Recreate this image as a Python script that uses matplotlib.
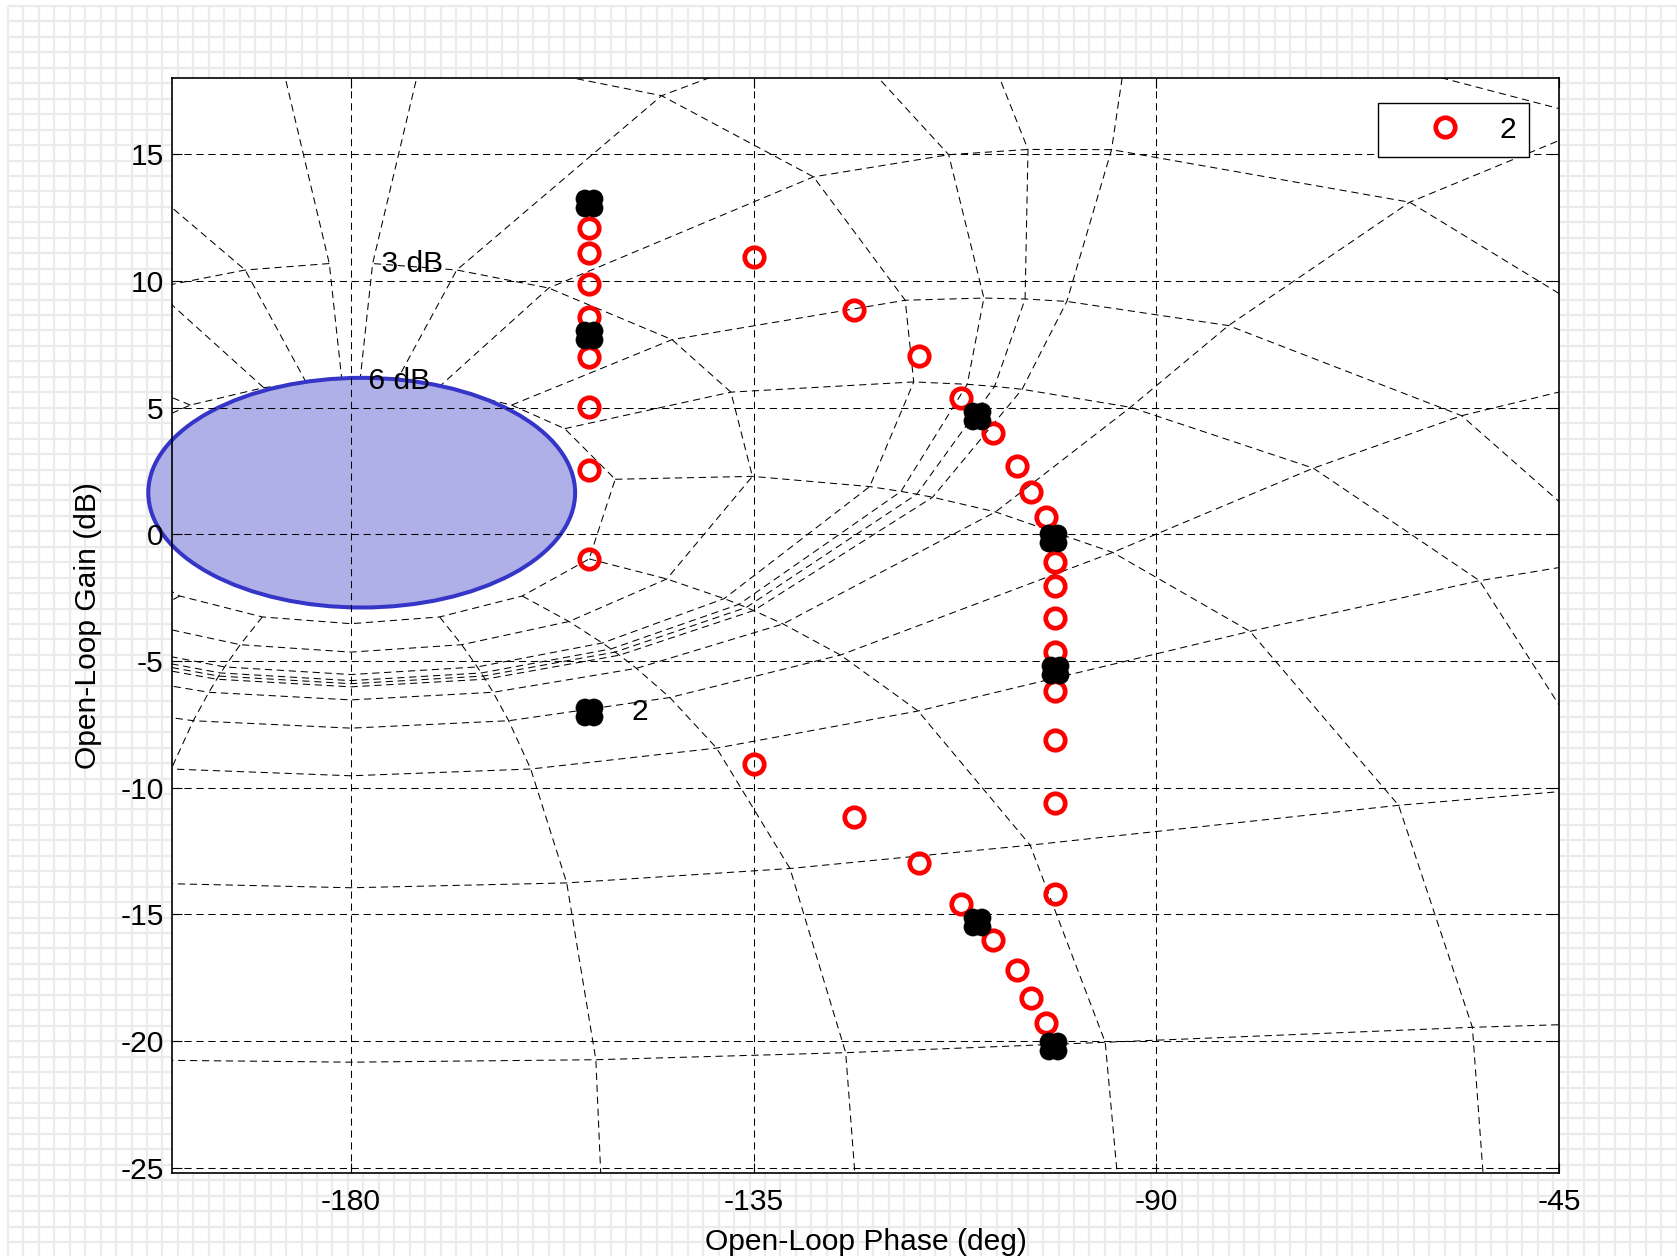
import numpy as np
import matplotlib
matplotlib.use('Agg')
import matplotlib.pyplot as plt
from matplotlib.patches import Ellipse
from matplotlib.lines import Line2D
from matplotlib.path import Path

plt.rcParams['font.family'] = ['Liberation Sans', 'DejaVu Sans']
plt.rcParams['lines.scale_dashes'] = False
plt.rcParams['axes.unicode_minus'] = False

# template points: open-loop phase (deg) / gain (dB)
tmpl_phase = [-153.4, -153.4, -153.4, -153.4, -153.4, -153.4, -153.4, -153.4, -153.4, -153.4, -153.4,
              -135.0, -123.8, -116.5, -111.8, -110.0, -108.3, -105.6, -104.0, -102.3, -101.5,
              -101.3, -101.3, -101.3, -101.3, -101.3, -101.3, -101.3, -101.3, -101.3, -101.5,
              -135.0, -123.8, -116.5, -111.8, -110.0, -108.3, -105.6, -104.0, -102.3]
tmpl_gain = [13.06, 12.09, 11.08, 9.86, 8.59, 7.88, 6.99, 5.01, 2.53, -0.97, -7.03,
             10.95, 8.85, 7.03, 5.39, 4.68, 4.00, 2.70, 1.68, 0.67, -0.13,
             -1.10, -2.06, -3.29, -4.63, -5.35, -6.19, -8.13, -10.6, -14.2, -20.2,
             -9.06, -11.16, -12.97, -14.6, -15.3, -16.0, -17.2, -18.3, -19.3]

# nominal points (black)
nom_phase = [-153.4, -153.4, -153.4, -110.0, -101.5, -101.3, -110.0, -101.5]
nom_gain = [13.06, 7.88, -7.03, 4.68, -0.13, -5.35, -15.3, -20.2]
nom_label = '2'
nom_label_pos = (-148.6, -7.0)

# bound region
bnd_center = (-178.8, 1.64)
bnd_width = 47.7
bnd_height = 9.06

# nichols grid: closed-loop gains (dB) and phases (deg)
cl_mag_db = [6, 3, 1, 0.5, 0.25, 0, -1, -3, -6, -12, -20, -40, -60]
cl_phase_deg = [1, 5, 10, 20, 30, 50, 90, 120, 150, 180]

xticks = [-180, -135, -90, -45]
yticks = [-25, -20, -15, -10, -5, 0, 5, 10, 15]
FS = 21.6

W, H = 1677, 1256
fig = plt.figure(figsize=(W / 100, H / 100), dpi=100)

# graph-paper background
bg = fig.add_axes([0, 0, 1, 1], zorder=-10)
bg.set_xlim(0, W)
bg.set_ylim(H, 0)
bg.axis('off')
bg.vlines(np.arange(8, W, 15.45), 6, H, color='#ebebeb', lw=1.6)
bg.hlines(np.arange(6, H, 15.45), 8, W, color='#ebebeb', lw=1.6)

ax = fig.add_axes([172 / W, (H - 1173) / H, 1387 / W, 1095 / H])
ax.set_facecolor('white')
ax.set_xlim(-200, -45)
ax.set_ylim(-25.2, 18)

dash = (0, (5.2, 3.4))
glw = 0.75

# compute the nichols grid (same way as ngrid)
mag = 10 ** (np.array(cl_mag_db) / 20.0)
phi_deg = np.r_[cl_phase_deg, -np.array(cl_phase_deg[::-1])]
Mg, Ph = np.meshgrid(mag, np.deg2rad(phi_deg))
T = Mg * np.exp(1j * Ph)
L = T / (1 - T)
ol_gain = 20 * np.log10(np.abs(L))
ol_phase = np.mod(np.degrees(np.angle(L)), 360) - 360

# constant closed-loop gain lines
ax.plot(ol_phase, ol_gain, color='k', lw=glw, ls=dash, zorder=1)
# constant closed-loop phase lines (the 180 one sits on the -180 grid line)
keep = np.abs(phi_deg) != 180
ax.plot(ol_phase[keep].T, ol_gain[keep].T, color='k', lw=glw, ls=dash, zorder=1)

for j, m in enumerate(cl_mag_db):
    if m <= 0:
        continue
    px, py = ol_phase[-1, j], ol_gain[-1, j]
    if -200 < px < -45 and -25.2 < py < 18:
        ax.text(px, py, ' %g dB' % m, fontsize=FS, ha='left', va='center', zorder=2)

# bound
ell = Ellipse(bnd_center, bnd_width, bnd_height, facecolor='#b0b0e8', edgecolor='#3535c8',
              lw=2.9, zorder=1.6, clip_on=False)
ax.add_patch(ell)

ax.grid(True, color='k', lw=glw, ls=dash)
ax.set_axisbelow(False)

# blob marker for nominal points (four overlapping discs)
blob = Path.make_compound_path(*[Path.circle((dx, dy), 0.5)
                                 for dx in (-0.25, 0.25) for dy in (-0.25, 0.25)])

ax.plot(tmpl_phase, tmpl_gain, ls='none', marker='o', mfc='none', mec='red', ms=14, mew=3.4, zorder=4)
ax.plot(nom_phase, nom_gain, ls='none', marker=blob, color='k', mfc='k', mec='k', ms=19.5, mew=0.5, zorder=5)
ax.text(nom_label_pos[0], nom_label_pos[1], nom_label, fontsize=FS, ha='left', va='center', zorder=6)

handle = Line2D([], [], ls='none', marker='o', mfc='none', mec='red', ms=14, mew=3.4)
leg = ax.legend([handle], ['2'], loc='upper right', bbox_to_anchor=(0.9787, 0.9774), borderaxespad=0,
                fancybox=False, edgecolor='k', framealpha=1, handlelength=3.65, handletextpad=0.0,
                borderpad=0.43, fontsize=FS)
leg.get_frame().set_linewidth(1.0)
leg.set_zorder(10)

ax.set_xticks(xticks)
ax.set_yticks(yticks)
ax.tick_params(direction='in', length=7, width=0.8, top=True, right=True, labelsize=FS)
ax.tick_params(axis='x', pad=10.5)
ax.tick_params(axis='y', pad=6)
for s in ax.spines.values():
    s.set_linewidth(1.2)
    s.set_zorder(3)

ax.set_xlabel('Open-Loop Phase (deg)', fontsize=FS)
ax.set_ylabel('Open-Loop Gain (dB)', fontsize=FS)
ax.xaxis.label.set_va('center')
ax.yaxis.label.set_va('center')
ax.xaxis.set_label_coords(0.5, -0.0627)
ax.yaxis.set_label_coords(-0.0608, 0.5)

fig.savefig('out.png', dpi=100)
